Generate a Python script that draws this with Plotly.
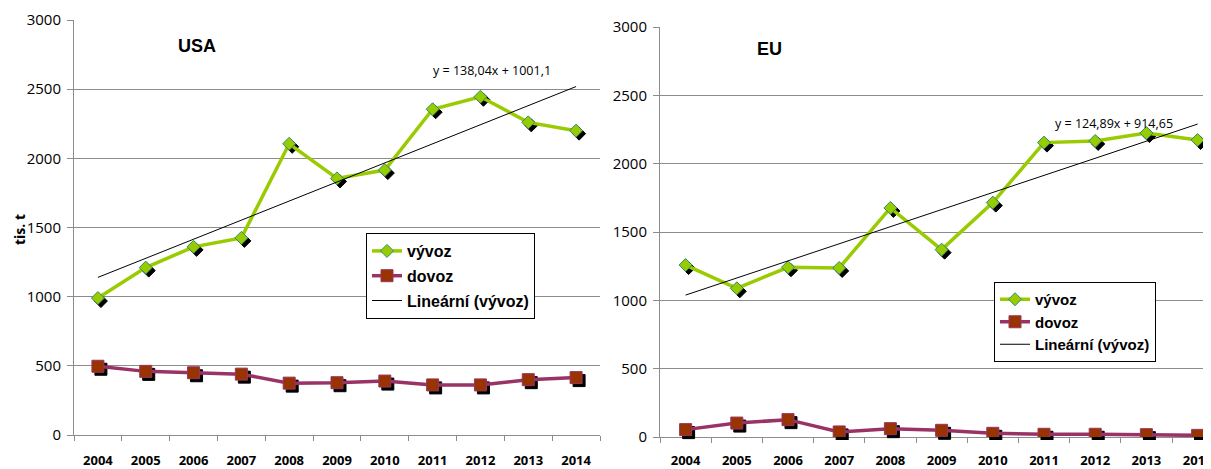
import numpy as np
import plotly.graph_objects as go

# ---------------- data ----------------
years = [str(y) for y in range(2004, 2015)]
usa_export = [990, 1210, 1360, 1425, 2105, 1855, 1915, 2355, 2445, 2260, 2200]
usa_import = [497, 460, 450, 440, 375, 378, 390, 362, 362, 400, 415]
eu_export = [1258, 1088, 1242, 1237, 1676, 1371, 1715, 2154, 2166, 2224, 2173]
eu_import = [54, 102, 127, 37, 61, 49, 27, 20, 20, 17, 12]
y_ticks = [0, 500, 1000, 1500, 2000, 2500, 3000]
usa_eq = "y = 138,04x + 1001,1"
eu_eq = "y = 124,89x + 914,65"
names = ["vývoz", "dovoz", "Lineární (vývoz)"]


def trend(vals):
    idx = np.arange(1, len(vals) + 1)
    k, q = np.polyfit(idx, vals, 1)
    return list(k * idx + q)


# ---------------- geometry (page pixels) ----------------
PW, PH = 1211, 469
OFF = 8  # default body margin of the page
W, H = PW - OFF, PH - OFF
SH = 3  # shadow offset px
L = dict(x0=74, x1=600, top=20, bot=435, standoff=13)
R = dict(x0=660, x1=1211, top=27, bot=437, cat=51.2, standoff=11)

EXP_C, EXP_B = "#99CC00", "#2E8B73"
IMP_C, IMP_L = "#993300", "#993366"
GRID = "#8C8C8C"


def px(p):
    return (p - OFF) / W


def py(p):
    return 1 - (p - OFF) / H


def dx(a, b):
    return [max(px(a), 0.0), min(px(b), 1.0)]


def dy(top, bot):
    return [py(bot), py(top)]


r_end = -0.5 + (R["x1"] - R["x0"]) / R["cat"]
r_end_sh = -0.5 + (R["x1"] - R["x0"] - SH) / R["cat"]

fig = go.Figure()

charts = [
    dict(g=("x", "y"), s=("x2", "y2"), m=("x3", "y3"), exp=usa_export, imp=usa_import,
         legend="legend", geo=L, xr=[-0.5, 10.5], xrs=[-0.5, 10.5]),
    dict(g=("x4", "y4"), s=("x5", "y5"), m=("x6", "y6"), exp=eu_export, imp=eu_import,
         legend="legend2", geo=R, xr=[-0.5, r_end], xrs=[-0.5, r_end_sh]),
]

for c in charts:
    fig.add_trace(go.Scatter(x=years, y=c["exp"], xaxis=c["g"][0], yaxis=c["g"][1],
                             mode="lines", line=dict(width=0), opacity=0,
                             showlegend=False, hoverinfo="skip"))
for c in charts:
    fig.add_trace(go.Scatter(x=years, y=c["exp"], xaxis=c["s"][0], yaxis=c["s"][1],
                             mode="markers", marker=dict(symbol="diamond", size=10, color="black",
                                                         line=dict(width=1, color="black")),
                             showlegend=False, hoverinfo="skip"))
    fig.add_trace(go.Scatter(x=years, y=c["imp"], xaxis=c["s"][0], yaxis=c["s"][1],
                             mode="markers", marker=dict(symbol="square", size=12, color="black",
                                                         line=dict(width=1, color="black")),
                             showlegend=False, hoverinfo="skip"))
for c in charts:
    fig.add_trace(go.Scatter(x=years, y=c["exp"], xaxis=c["m"][0], yaxis=c["m"][1],
                             mode="lines+markers", name=names[0], legend=c["legend"],
                             legendgroup="a",
                             line=dict(color=EXP_C, width=3.5),
                             marker=dict(symbol="diamond", size=10, color=EXP_C,
                                         line=dict(width=1, color=EXP_B))))
    fig.add_trace(go.Scatter(x=years, y=c["imp"], xaxis=c["m"][0], yaxis=c["m"][1],
                             mode="lines+markers", name=names[1], legend=c["legend"],
                             legendgroup="b",
                             line=dict(color=IMP_L, width=3.5),
                             marker=dict(symbol="square", size=12, color=IMP_C,
                                         line=dict(width=1, color=IMP_L))))
    fig.add_trace(go.Scatter(x=years, y=trend(c["exp"]), xaxis=c["m"][0], yaxis=c["m"][1],
                             mode="lines", name=names[2], legend=c["legend"],
                             legendgroup="c",
                             line=dict(color="black", width=1)))

layout = dict(
    width=W, height=H, margin=dict(l=0, r=0, t=0, b=0),
    paper_bgcolor="white", plot_bgcolor="rgba(0,0,0,0)",
    template="none", showlegend=True,
)

for c in charts:
    g = c["geo"]
    gx, gy = c["g"][0].replace("x", "xaxis"), c["g"][1].replace("y", "yaxis")
    sx, sy = c["s"][0].replace("x", "xaxis"), c["s"][1].replace("y", "yaxis")
    mx, my = c["m"][0].replace("x", "xaxis"), c["m"][1].replace("y", "yaxis")
    layout[gx] = dict(domain=dx(g["x0"], g["x1"]), anchor=c["g"][1], type="category",
                      range=c["xr"], showgrid=False, showline=True, linecolor=GRID, linewidth=1,
                      ticks="outside", tickson="boundaries", ticklen=5, tickcolor=GRID,
                      ticklabelstandoff=g["standoff"], automargin=False,
                      tickfont=dict(family="Open Sans", size=13, color="black", weight="bold"),
                      zeroline=False, fixedrange=True)
    layout[gy] = dict(domain=dy(g["top"], g["bot"]), anchor=c["g"][0], range=[0, 3000],
                      tickvals=y_ticks, showgrid=True, gridcolor=GRID, gridwidth=1,
                      showline=True, linecolor=GRID, linewidth=1, ticks="outside",
                      ticklen=6, tickcolor=GRID, ticklabelstandoff=3, automargin=False,
                      tickfont=dict(family="Open Sans", size=15, color="black"),
                      zeroline=False, fixedrange=True)
    layout[sx] = dict(domain=dx(g["x0"] + SH, g["x1"] + SH), anchor=c["s"][1], type="category",
                      range=c["xrs"], visible=False, fixedrange=True)
    layout[sy] = dict(domain=dy(g["top"] + SH, g["bot"] + SH), anchor=c["s"][0],
                      range=[0, 3000], visible=False, fixedrange=True)
    layout[mx] = dict(domain=dx(g["x0"], g["x1"]), anchor=c["m"][1], type="category",
                      range=c["xr"], visible=False, fixedrange=True)
    layout[my] = dict(domain=dy(g["top"], g["bot"]), anchor=c["m"][0], range=[0, 3000],
                      visible=False, fixedrange=True)

leg_common = dict(bgcolor="white", bordercolor="black", borderwidth=1,
                  xanchor="left", yanchor="top", itemwidth=30)
layout["legend"] = dict(leg_common, x=px(366), y=py(233), tracegroupgap=1,
                        font=dict(family="Liberation Sans", size=16, color="black",
                                  weight="bold"))
layout["legend2"] = dict(leg_common, x=px(994), y=py(282), tracegroupgap=0,
                         font=dict(family="Liberation Sans", size=15, color="black",
                                   weight="bold"))

ann = []


def add_text(text, x, y, family, size, angle=0, anchor="center"):
    ann.append(dict(text=text, x=px(x), y=py(y), xref="paper", yref="paper",
                    xanchor=anchor, yanchor="middle", showarrow=False, textangle=angle,
                    font=dict(family=family, size=size, color="black")))


add_text("<b>USA</b>", 197, 46, "Liberation Sans", 18)
add_text("<b>EU</b>", 769, 49, "Liberation Sans", 18)
add_text(usa_eq, 431, 70, "Open Sans", 12.5, anchor="left")
add_text(eu_eq, 1053, 124, "Open Sans", 12.5, anchor="left")
add_text("<b>tis. t</b>", 19, 230, "Open Sans", 14, -90)
layout["annotations"] = ann

fig.update_layout(**layout)
fig.write_html("out.html")
